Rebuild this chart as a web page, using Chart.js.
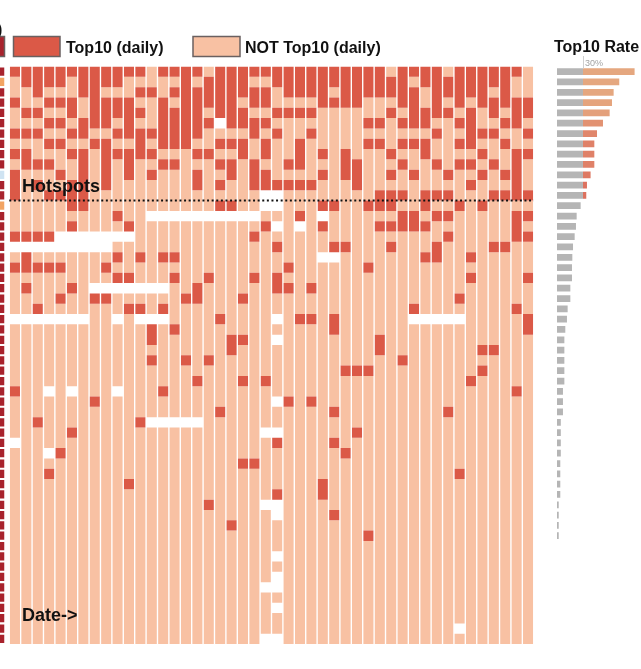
<!DOCTYPE html>
<html><head><meta charset="utf-8">
<script src="https://cdn.jsdelivr.net/npm/chart.js@4.4.1/dist/chart.umd.min.js"></script>
<style>
html,body{margin:0;padding:0;background:#fff;overflow:hidden;width:641px;height:669px;}
#side{position:absolute;left:-12px;top:0;width:17px;height:669px;}
#heat{position:absolute;left:0;top:0;width:541px;height:669px;}
#rate{position:absolute;left:540px;top:0;width:101px;height:669px;}
</style></head><body>
<canvas id="side" width="17" height="669"></canvas>
<canvas id="heat" width="541" height="669"></canvas>
<canvas id="rate" width="101" height="669"></canvas>
<script>
// ---------------- data ----------------
const dayLabels = ['Day 1','Day 2','Day 3','Day 4','Day 5','Day 6','Day 7','Day 8','Day 9','Day 10',
  'Day 11','Day 12','Day 13','Day 14','Day 15','Day 16','Day 17','Day 18','Day 19','Day 20',
  'Day 21','Day 22','Day 23','Day 24','Day 25','Day 26','Day 27','Day 28','Day 29','Day 30',
  'Day 31','Day 32','Day 33','Day 34','Day 35','Day 36','Day 37','Day 38','Day 39','Day 40',
  'Day 41','Day 42','Day 43','Day 44','Day 45','Day 46'];

// one string per row (sorted by Top10 rate); one char per day:
// 'R' = Top10 that day, '-' = NOT Top10, '.' = no data
const dailyStatus = [
  'RRRRRRRRRRRR-RRRR-RRRRR' + 'RRRRRRRRRR-RRRR-RRRRRR-',
  '-RRRR-RRRR-----R-RRRR--' + 'RRRRRRRRRRRR-RRRRRRRR--',
  '--R---RR---RR-RRRRRRRRR' + '-RRRR-RRRRRRR-RRRRR-R--',
  'R--RRR-RRRR--R-RRRRR-RR' + '----RRRR---RR-R-R-RRRRR',
  '-RR--R-RRRRR-RRRR-RRR--' + 'RRRR------R-RRRR-R-R-RR',
  '---RR-RRR-R--RRRRR.RRRR' + '--------RR-RRR--RR--RR-',
  'RRR--RR--RRRRRRRR----R-' + 'R--R----------R--RRR--R',
  '---RR--RR--R-RRR--RRR-R' + '--R-----RR-RRR--RR--R--',
  'RR---RR-RRRRR---RR--R-R' + '--R-R-R---R--R----R--RR',
  '-RRR--R-R-R--RR---RR-R-' + '-RR---RR---R--R-RR-R-R-',
  'R---R-R-R-R-R---R--R-RR' + '----R-RR--R-R--R--R-RR-',
  'R-R--RR-R-------R-R--RR' + 'RRRR---R---------R---R-',
  'R--RRRR---------------.' + '.--------RRR-RRR---RRRR',
  '-----RR-----------RR--.' + '.---RR--RRR--R--R-R----',
  '---------R--..........-' + '--R-.------RR-RR-----RR',
  '-----R----R-----------R' + '.-.-R----RRRRR-------R-',
  'RRRR.......----------R-' + '---------------R-----RR',
  '.........--------------' + 'R----RR---R---R----RR--',
  '-R-------R-R-RR--------' + '----..-------RR--R-----',
  'RRRRR---R--------------' + '-R------R--------------',
  '---------RR---R--R---R-' + 'R----------------R----R',
  '-R---R-.......--R------' + 'RR-R-------------------',
  '----R--RR------RR---R--' + '----------------R------',
  '--R-------RR-R---------' + '------------R--------R-',
  '.......--.-...----R----' + '.-RR-R------.....-----R',
  '------------R-R--------' + '-----R----------------R',
  '------------R------RR--' + '.--------R-------------',
  '-------------------R---' + '---------R--------RR---',
  '------------R--R-R-----' + '-----------R-----------',
  '-----------------------' + '------RRR---------R----',
  '----------------R---R-R' + '-----------------R-----',
  'R--.-.---.---R---------' + '---------------------R-',
  '-------R---------------' + '.R-R-------------------',
  '------------------R----' + '-----R---------R-------',
  '--R--------R.....------' + '-----------------------',
  '-----R----------------.' + '.------R---------------',
  '.----------------------' + 'R----R-----------------',
  '---.R------------------' + '------R----------------',
  '--------------------RR-' + '-----------------------',
  '---R-------------------' + '----------------R------',
  '----------R------------' + '----R------------------',
  '-----------------------' + 'R---R------------------',
  '-----------------R----.' + '.----------------------',
  '-----------------------' + '.----R-----------------',
  '-------------------R---' + '-----------------------',
  '-----------------------' + '--------R--------------',
  '-----------------------' + '-----------------------',
  '-----------------------' + '.----------------------',
  '-----------------------' + '-----------------------',
  '-----------------------' + '.----------------------',
  '----------------------.' + '.----------------------',
  '-----------------------' + '-----------------------',
  '-----------------------' + '.----------------------',
  '-----------------------' + '-----------------------',
  '-----------------------' + '----------------.------',
  '----------------------.' + '.----------------------'
];
const hotspotCount = 13;

// Top10 rate per row, in percent
const top10Rate = [89.6, 71.9, 65.4, 63.5, 60.8, 53.1, 46.2, 43.1, 43.1, 43.1,
  38.8, 34.6, 33.8, 27.3, 22.7, 21.9, 20.4, 18.5, 17.7, 17.3,
  17.3, 15.4, 15.4, 12.3, 11.5, 9.6, 8.5, 8.5, 8.5, 8.5,
  8.5, 6.9, 6.9, 6.9, 4.4, 4.4, 4.4, 4.4, 3.8, 3.8,
  3.8, 3.8, 2.0, 2.0, 2.0, 2.0, 0, 0, 0, 0,
  0, 0, 0, 0, 0, 0];
const rateThreshold = 30;
const legendLabels = ['Top10 (daily)', 'NOT Top10 (daily)'];

// category column of the neighbouring (cut-off) panel, one entry per row
const neighborGroup = ['A','B','A','A','A','A','A','A','A','A',
  'C','A','A','B','A','A','A','A','A','A',
  'A','A','A','A','A','A','A','A','A','A',
  'A','A','A','A','A','A','A','A','A','A',
  'A','A','A','A','A','A','A','A','A','A',
  'A','A','A','A','A','A'];

// ---------------- styles ----------------
const RED = '#db5947';
const SALMON = '#f8c1a3';
const GREY = '#b5b5b5';
const GROUP_COLORS = {A: '#a8232d', B: '#f2a463', C: '#cfe3f2'};
const FONT = '"Liberation Sans", Arial, sans-serif';

const rowIds = dailyStatus.map((_, i) => 'Row ' + (i + 1));

function runsOf(ch) {
  const out = [];
  for (let c = 0; c < dayLabels.length; c++) {
    let r = 0;
    while (r < dailyStatus.length) {
      if (dailyStatus[r][c] === ch) {
        let e = r;
        while (e < dailyStatus.length && dailyStatus[e][c] === ch) e++;
        out.push({x: dayLabels[c], y: [r, e]});
        r = e;
      } else r++;
    }
  }
  return out;
}

const heatDecor = {
  id: 'heatDecor',
  afterDatasetsDraw(chart) {
    const {ctx, chartArea, scales} = chart;
    ctx.save();
    // dotted hotspot boundary
    const yb = scales.y.getPixelForValue(hotspotCount);
    ctx.strokeStyle = '#111';
    ctx.lineWidth = 2;
    ctx.setLineDash([2, 2.6]);
    ctx.beginPath();
    ctx.moveTo(chartArea.left, yb);
    ctx.lineTo(chartArea.right, yb);
    ctx.stroke();
    ctx.setLineDash([]);
    ctx.fillStyle = '#111';
    ctx.font = 'bold 18px ' + FONT;
    ctx.textBaseline = 'alphabetic';
    ctx.fillText('Hotspots', 22, 192);
    ctx.fillText('Date->', 22, 621);
    // legend
    ctx.font = 'bold 16px ' + FONT;
    ctx.lineWidth = 1.5;
    ctx.strokeStyle = '#6a6060';
    const items = [
      {x: 13.5, w: 46.5, color: RED, label: legendLabels[0], tx: 66},
      {x: 193, w: 47, color: SALMON, label: legendLabels[1], tx: 245}
    ];
    // cut-off legend item of the neighbouring panel
    ctx.fillStyle = GROUP_COLORS.A;
    ctx.fillRect(-30, 36.5, 34.5, 20);
    ctx.strokeRect(-30, 36.5, 34.5, 20);
    for (const it of items) {
      ctx.fillStyle = it.color;
      ctx.fillRect(it.x, 36.5, it.w, 20);
      ctx.strokeRect(it.x, 36.5, it.w, 20);
      ctx.fillStyle = '#111';
      ctx.fillText(it.label, it.tx, 53);
    }
    ctx.fillText(')', -3, 35);
    ctx.restore();
  }
};

// neighbouring panel strip (only its right edge is inside the picture)
new Chart(document.getElementById('side'), {
  type: 'bar',
  data: {
    labels: rowIds,
    datasets: [{
      label: 'group',
      data: neighborGroup.map(g => (g ? [0, 1] : null)),
      backgroundColor: neighborGroup.map(g => GROUP_COLORS[g])
    }]
  },
  options: {
    indexAxis: 'y',
    responsive: false,
    animation: false,
    devicePixelRatio: 1,
    layout: {padding: {left: 0, right: 0.5, top: 66.5, bottom: 25}},
    datasets: {bar: {barPercentage: 0.8, categoryPercentage: 1, borderWidth: 0}},
    scales: {
      x: {type: 'linear', min: 0, max: 1, display: false},
      y: {type: 'category', display: false, offset: true}
    },
    plugins: {legend: {display: false}, tooltip: {enabled: false}}
  }
});

new Chart(document.getElementById('heat'), {
  type: 'bar',
  data: {
    labels: dayLabels,
    datasets: [
      {label: legendLabels[0], data: runsOf('R'), backgroundColor: RED},
      {label: legendLabels[1], data: runsOf('-'), backgroundColor: SALMON}
    ]
  },
  options: {
    responsive: false,
    animation: false,
    devicePixelRatio: 1,
    layout: {padding: {left: 9.26, right: 7.26, top: 66.5, bottom: 25}},
    datasets: {bar: {grouped: false, barPercentage: 0.88, categoryPercentage: 1, borderWidth: 0}},
    scales: {
      x: {type: 'category', display: false, offset: true},
      y: {type: 'linear', min: 0, max: dailyStatus.length, reverse: true, display: false}
    },
    plugins: {legend: {display: false}, tooltip: {enabled: false}}
  },
  plugins: [heatDecor]
});

function mix(a, b, t) {
  const pa = a.match(/\w\w/g).map(h => parseInt(h, 16));
  const pb = b.match(/\w\w/g).map(h => parseInt(h, 16));
  return 'rgb(' + pa.map((v, i) => Math.round(v + (pb[i] - v) * t)).join(',') + ')';
}

const rateDecor = {
  id: 'rateDecor',
  afterDatasetsDraw(chart) {
    const {ctx, chartArea, scales} = chart;
    const x30 = Math.round(scales.x.getPixelForValue(rateThreshold)) + 0.5;
    ctx.save();
    ctx.strokeStyle = '#cfcfcf';
    ctx.lineWidth = 1;
    ctx.beginPath();
    ctx.moveTo(x30, 56);
    ctx.lineTo(x30, chartArea.top + 2);
    ctx.stroke();
    ctx.fillStyle = '#a3a3a3';
    ctx.font = '9px ' + FONT;
    ctx.fillText(rateThreshold + '%', x30 + 1.5, 66);
    ctx.fillStyle = '#111';
    ctx.font = 'bold 16px ' + FONT;
    ctx.fillText('Top10 Rate', 14, 52);
    ctx.restore();
  }
};

new Chart(document.getElementById('rate'), {
  type: 'bar',
  data: {
    labels: rowIds,
    datasets: [
      {label: 'rate', data: top10Rate.map(v => v > 0 ? [0, Math.min(v, rateThreshold)] : null), backgroundColor: GREY},
      {label: 'above', data: top10Rate.map(v => v > rateThreshold ? [rateThreshold, v] : null),
        backgroundColor: (c) => {
          const v = top10Rate[c.dataIndex];
          const t = Math.min(1, Math.max(0, (v - rateThreshold) / 35));
          return mix('dc6a5a', 'e5a77f', t);
        }}
    ]
  },
  options: {
    indexAxis: 'y',
    responsive: false,
    animation: false,
    devicePixelRatio: 1,
    layout: {padding: {left: 17, right: 0, top: 66.5, bottom: 25}},
    datasets: {bar: {grouped: false, barPercentage: 0.65, categoryPercentage: 1, borderWidth: 0}},
    scales: {
      x: {type: 'linear', min: 0, max: 97, display: false},
      y: {type: 'category', display: false, offset: true}
    },
    plugins: {legend: {display: false}, tooltip: {enabled: false}}
  },
  plugins: [rateDecor]
});
</script>
</body></html>
